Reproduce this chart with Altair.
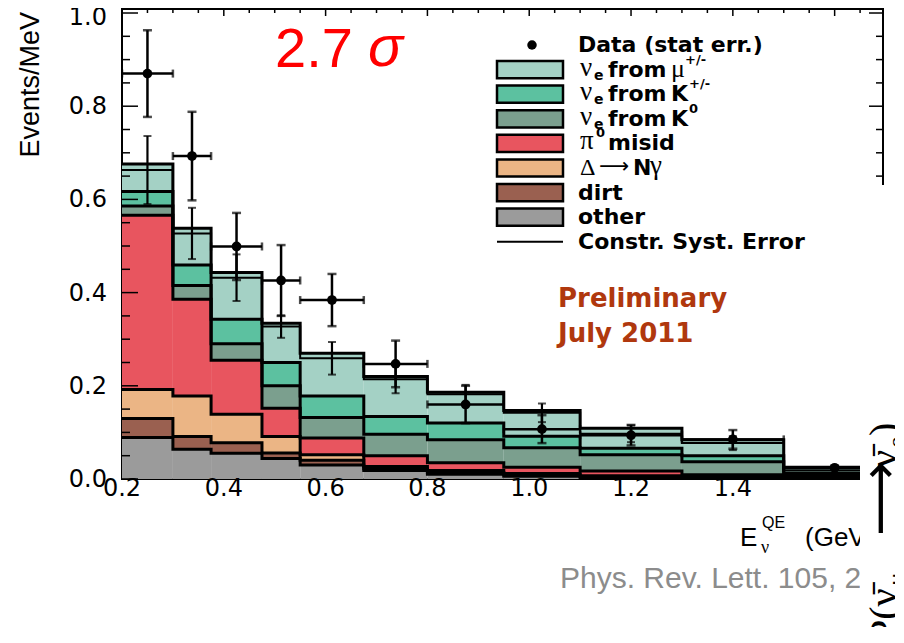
import altair as alt
import pandas as pd

# ---------------- data ----------------
edges = [0.2, 0.3, 0.375, 0.475, 0.55, 0.675, 0.8, 0.95, 1.1, 1.3, 1.5, 3.0]

comp_names = ["other", "dirt", "delta", "pi0", "K0", "Kpm", "mu"]
comp_colors = ["#9b9b9b", "#9a6050", "#ebb585", "#e8555f", "#7b9f8e", "#5cc1a0", "#a4d1c5"]
other = [0.089, 0.064, 0.055, 0.044, 0.030, 0.018, 0.010, 0.006, 0.003, 0.002, 0.001]
dirt  = [0.041, 0.027, 0.023, 0.012, 0.010, 0.004, 0.004, 0.003, 0.002, 0.001, 0.001]
delta = [0.062, 0.087, 0.061, 0.035, 0.012, 0.005, 0.004, 0.003, 0.002, 0.002, 0.001]
pi0   = [0.374, 0.208, 0.116, 0.061, 0.036, 0.023, 0.017, 0.013, 0.010, 0.004, 0.001]
k0    = [0.020, 0.029, 0.035, 0.048, 0.044, 0.046, 0.049, 0.042, 0.035, 0.028, 0.005]
kpm   = [0.031, 0.044, 0.053, 0.050, 0.046, 0.038, 0.036, 0.025, 0.014, 0.013, 0.004]
mu    = [0.059, 0.079, 0.100, 0.084, 0.092, 0.086, 0.066, 0.055, 0.043, 0.034, 0.012]

constr   = [0.663, 0.527, 0.432, 0.327, 0.259, 0.214, 0.182, 0.142, 0.097, 0.077, 0.019]
syst_err = [0.073, 0.055, 0.050, 0.024, 0.035, 0.030, 0.020, 0.020, 0.018, 0.015, 0.005]

data_x   = [0.25, 0.3375, 0.425, 0.5125, 0.6125, 0.7375, 0.875, 1.025, 1.2, 1.4, 1.6]
data_y   = [0.870, 0.693, 0.499, 0.426, 0.384, 0.247, 0.160, 0.107, 0.094, 0.085, 0.024]
stat_err = [0.093, 0.095, 0.072, 0.076, 0.056, 0.050, 0.040, 0.030, 0.022, 0.020, 0.004]

x_tick_labels = [0.2, 0.4, 0.6, 0.8, 1.0, 1.2, 1.4]
y_tick_labels = [0.0, 0.2, 0.4, 0.6, 0.8, 1.0]
x_major = [0.2, 0.4, 0.6, 0.8, 1.0, 1.2, 1.4, 1.6]
x_minor = [0.25, 0.3, 0.35, 0.45, 0.5, 0.55, 0.65, 0.7, 0.75, 0.85, 0.9, 0.95,
           1.05, 1.1, 1.15, 1.25, 1.3, 1.35, 1.45, 1.5, 1.55, 1.65]
y_major = [0.0, 0.2, 0.4, 0.6, 0.8, 1.0]
y_minor = [0.05, 0.1, 0.15, 0.25, 0.3, 0.35, 0.45, 0.5, 0.55, 0.65, 0.7, 0.75,
           0.85, 0.9, 0.95]

legend_plain = ["Data (stat err.)", "dirt", "other", "Constr. Syst. Error"]
legend_plain_rows = [0, 6, 7, 8]
swatch_rows = [7, 6, 5, 4, 3, 2, 1]   # other ... mu, bottom legend row first

# ---------------- tables ----------------
comps = [other, dirt, delta, pi0, k0, kpm, mu]
rect_rows, step_rows = [], []
cum = [0.0] * len(other)
for name, vals in zip(comp_names, comps):
    top = [c + v for c, v in zip(cum, vals)]
    for i in range(len(vals)):
        rect_rows.append(dict(comp=name, lo=edges[i], hi=edges[i + 1], y0=cum[i], y1=top[i]))
    for i in range(len(vals)):
        step_rows.append(dict(level=name, x=edges[i], y=top[i], i=i))
    step_rows.append(dict(level=name, x=edges[-1], y=top[-1], i=len(vals)))
    cum = top
rects = pd.DataFrame(rect_rows)
steps = pd.DataFrame(step_rows)

constr_df = pd.DataFrame(
    [dict(x=edges[i], y=constr[i], i=i) for i in range(len(constr))]
    + [dict(x=edges[-1], y=constr[-1], i=len(constr))])
centers = [(edges[i] + edges[i + 1]) / 2 for i in range(len(constr))]
syst = pd.DataFrame(dict(x=centers, lo=[c - e for c, e in zip(constr, syst_err)],
                         hi=[c + e for c, e in zip(constr, syst_err)]))
pts = pd.DataFrame(dict(x=data_x, y=data_y,
                        lo=[y - e for y, e in zip(data_y, stat_err)],
                        hi=[y + e for y, e in zip(data_y, stat_err)],
                        xlo=edges[:-1], xhi=edges[1:]))

W, H = 761, 470
XS = alt.Scale(domain=[0.2, 1.695], nice=False, zero=False)
YS = alt.Scale(domain=[0, 1.0086], nice=False, zero=False)

def xq(f):
    return alt.X(f, type="quantitative", scale=XS, axis=None)

def yq(f):
    return alt.Y(f, type="quantitative", scale=YS, axis=None)

fills = alt.Chart(rects).mark_rect(clip=True).encode(
    x=xq("lo"), x2="hi:Q", y=yq("y0"), y2="y1:Q",
    color=alt.Color("comp:N", scale=alt.Scale(domain=comp_names, range=comp_colors), legend=None),
)

outlines = alt.Chart(steps).mark_line(interpolate="step-after", color="black",
                                      strokeWidth=3, clip=True).encode(
    x=xq("x"), y=yq("y"), detail="level:N", order="i:Q")

constr_line = alt.Chart(constr_df).mark_line(interpolate="step-after", color="black",
                                             strokeWidth=2, clip=True).encode(
    x=xq("x"), y=yq("y"), order="i:Q")

syst_bar = alt.Chart(syst).mark_rule(color="black", strokeWidth=2.2, clip=True).encode(
    x=xq("x"), y=yq("lo"), y2="hi:Q")
syst_cap_lo = alt.Chart(syst).mark_tick(color="black", orient="horizontal", size=8,
                                        thickness=2, clip=True).encode(x=xq("x"), y=yq("lo"))
syst_cap_hi = alt.Chart(syst).mark_tick(color="black", orient="horizontal", size=8,
                                        thickness=2, clip=True).encode(x=xq("x"), y=yq("hi"))

d_v = alt.Chart(pts).mark_rule(color="black", strokeWidth=2.5, clip=True).encode(
    x=xq("x"), y=yq("lo"), y2="hi:Q")
d_h = alt.Chart(pts).mark_rule(color="black", strokeWidth=2.5, clip=True).encode(
    x=xq("xlo"), x2="xhi:Q", y=yq("y"))
d_cap_lo = alt.Chart(pts).mark_tick(color="black", orient="horizontal", size=9, thickness=2.5,
                                    clip=True).encode(x=xq("x"), y=yq("lo"))
d_cap_hi = alt.Chart(pts).mark_tick(color="black", orient="horizontal", size=9, thickness=2.5,
                                    clip=True).encode(x=xq("x"), y=yq("hi"))
d_cap_l = alt.Chart(pts).mark_tick(color="black", orient="vertical", size=8, thickness=2.5,
                                   clip=True).encode(x=xq("xlo"), y=yq("y"))
d_cap_r = alt.Chart(pts).mark_tick(color="black", orient="vertical", size=8, thickness=2.5,
                                   clip=True).encode(x=xq("xhi"), y=yq("y"))
d_pts = alt.Chart(pts).mark_circle(color="black", size=95, opacity=1, clip=True).encode(
    x=xq("x"), y=yq("y"))

# inner ticks of the frame
def yticks(vals, x0, x1):
    return alt.Chart(pd.DataFrame(dict(v=vals))).mark_rule(color="black", strokeWidth=1.5).encode(
        y=yq("v"), x=alt.value(x0), x2=alt.value(x1))

def xticks(vals, length):
    return alt.Chart(pd.DataFrame(dict(v=vals))).mark_rule(color="black", strokeWidth=1.5).encode(
        x=xq("v"), y=alt.value(0), y2=alt.value(length))

ticks = [yticks(y_major, 0, 16), yticks(y_minor, 0, 8),
         yticks(y_major, W - 14, W), yticks(y_minor, W - 7, W),
         xticks(x_major, 7), xticks(x_minor, 4)]

# tick labels placed through the same scales
x_labels = alt.Chart(pd.DataFrame(dict(v=x_tick_labels))).mark_text(
    align="center", baseline="alphabetic", font="DejaVu Sans", fontSize=24, color="black").encode(
    x=xq("v"), y=alt.value(H + 17), text=alt.Text("v:Q", format=".1f"))

def y_label_layer(vals, dy):
    return alt.Chart(pd.DataFrame(dict(v=vals))).mark_text(
        align="right", baseline="middle", font="DejaVu Sans", fontSize=24, color="black",
        dy=dy).encode(y=yq("v"), x=alt.value(-15), text=alt.Text("v:Q", format=".1f"))

y_labels = [y_label_layer(y_tick_labels[:-1], 1), y_label_layer(y_tick_labels[-1:], 5)]


def txt(s, x, y, size, font="Liberation Sans", weight="normal", color="black",
        style="normal", align="left", baseline="alphabetic", angle=0):
    return alt.Chart(pd.DataFrame(dict(t=[s]))).mark_text(
        align=align, baseline=baseline, font=font, fontSize=size, fontWeight=weight,
        fontStyle=style, color=color, angle=angle).encode(
        x=alt.value(x), y=alt.value(y), text="t:N")


y_title = txt("Events/MeV", -83, 3, 27, align="right", angle=270)

# ---------------- legend (rows laid out at a fixed pitch) ----------------
ROW0, PITCH = 36, 24.6

def row_y(r):
    return ROW0 + PITCH * r

swatches = [
    alt.Chart(pd.DataFrame(dict(comp=[c]))).mark_point(
        shape="M-1,-0.26H1V0.26H-1Z", filled=True, size=4356, stroke="black",
        strokeWidth=2.5, opacity=1).encode(
        x=alt.value(408), y=alt.value(row_y(r)),
        fill=alt.Fill("comp:N", scale=alt.Scale(domain=comp_names, range=comp_colors),
                      legend=None))
    for c, r in zip(comp_names, swatch_rows)
]
one = pd.DataFrame(dict(a=[0]))
leg_dot = alt.Chart(one).mark_circle(color="black", size=90, opacity=1).encode(
    x=alt.value(410), y=alt.value(row_y(0)))
leg_line = alt.Chart(one).mark_rule(color="black", strokeWidth=2).encode(
    x=alt.value(375), x2=alt.value(441), y=alt.value(row_y(8)))


def ltext(r, s, x, size, font="DejaVu Sans", weight="bold", dy=0):
    return txt(s, x, row_y(r) + dy, size, font=font, weight=weight, baseline="middle")


leg_texts = [ltext(r, s, 456, 22) for r, s in zip(legend_plain_rows, legend_plain)]
for r in (1, 2, 3):
    leg_texts += [ltext(r, "ν", 458, 27, font="Liberation Serif", weight="normal", dy=-2),
                  ltext(r, "e", 472, 14, dy=6),
                  ltext(r, "from", 486, 22)]
leg_texts += [
    ltext(1, "μ", 549, 26, font="Liberation Serif", weight="normal", dy=-1),
    ltext(1, "+/-", 563, 13, dy=-10),
    ltext(2, "K", 549, 22),
    ltext(3, "K", 549, 22),
    ltext(2, "+/-", 567, 13, dy=-10),
    ltext(3, "0", 567, 13, dy=-10),
    ltext(4, "π", 458, 27, font="Liberation Serif", weight="normal", dy=-2),
    ltext(4, "0", 474, 13, dy=-10),
    ltext(4, "misid", 486, 22),
    ltext(5, "Δ", 458, 24, font="Liberation Serif", weight="normal"),
    ltext(5, "⟶", 477, 21, font="DejaVu Sans", weight="normal", dy=-1),
    ltext(5, "N", 511, 22),
    ltext(5, "γ", 528, 27, font="Liberation Serif", weight="normal", dy=-2),
]

# ---------------- annotations ----------------
annots = [
    txt("2.7", 153, 58, 56, color="#ff0000"),
    txt("σ", 246, 57, 58, color="#ff0000", style="italic"),
    txt("Preliminary", 436, 298, 26, font="DejaVu Sans", weight="bold", color="#b0380e"),
    txt("July 2011", 436, 333, 26, font="DejaVu Sans", weight="bold", color="#b0380e"),
    txt("E", 618, 537, 26),
    txt("ν", 639, 544, 18, font="Liberation Serif"),
    txt("QE", 640, 519, 16),
    txt("(GeV", 683, 537, 26),
    txt("Phys. Rev. Lett. 105, 2", 438, 579, 30, color="#8c8c8c"),
]

overlay = alt.Chart(one).mark_rect(color="white", opacity=1).encode(
    x=alt.value(738), x2=alt.value(790), y=alt.value(176), y2=alt.value(640))

# rotated label on the right, read bottom to top
plabel = [
    txt("P(ν̄", 775, 633, 40, font="Liberation Serif", angle=270),
    txt("μ", 783, 577, 26, font="Liberation Serif", angle=270),
    txt("⟶", 775, 527, 52, font="DejaVu Sans", angle=270),
    txt("ν̄", 775, 459, 40, font="Liberation Serif", angle=270),
    txt("e", 783, 439, 26, font="Liberation Serif", angle=270),
    txt(")", 775, 427, 40, font="Liberation Serif", angle=270),
]

chart = alt.layer(
    fills, outlines, constr_line, syst_bar, syst_cap_lo, syst_cap_hi,
    d_v, d_h, d_cap_lo, d_cap_hi, d_cap_l, d_cap_r, d_pts, *ticks,
    x_labels, *y_labels, y_title,
    *swatches, leg_dot, leg_line, *leg_texts, *annots, overlay, *plabel
).properties(
    width=W, height=H,
    autosize=alt.AutoSizeParams(type="none"),
    padding={"left": 114, "top": 1, "right": 12, "bottom": 148},
).configure_view(
    stroke="black", strokeWidth=2
)

chart.save("out.html", embed_options={"renderer": "svg", "actions": False})
